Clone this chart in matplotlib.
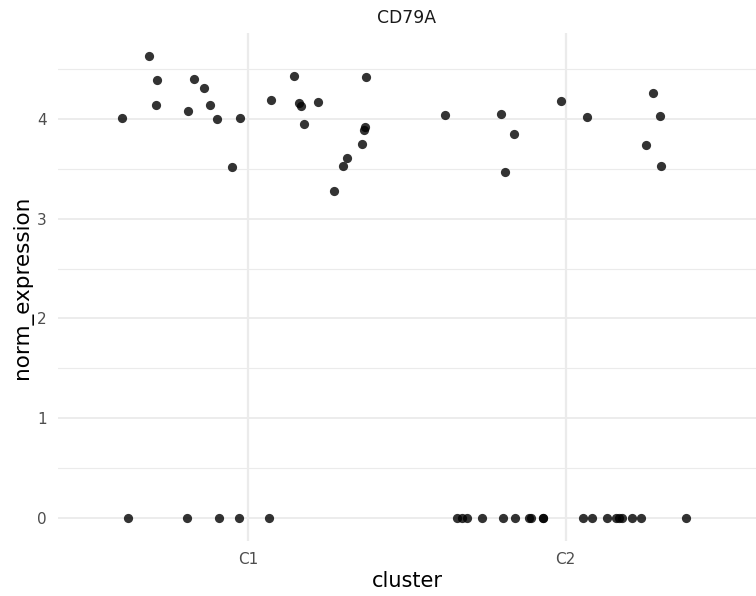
import numpy as np
import matplotlib
matplotlib.use("Agg")
import matplotlib.pyplot as plt

# CD79A expression per cell, jittered around its cluster
clusters = ["C1", "C2"]

# cluster C1: jitter offset (from cluster centre) and expression
c1_jitter = [-0.314, -0.289, -0.172, -0.141, -0.290, -0.191, -0.120, -0.397,
             -0.098, -0.026, -0.050, 0.070, 0.145, 0.160, 0.166, 0.221,
             0.176, 0.370, 0.367, 0.363, 0.358, 0.312, 0.298, 0.271,
             -0.380, -0.193, -0.094, -0.031, 0.066]
c1_expr = [4.63, 4.39, 4.40, 4.31, 4.14, 4.08, 4.14, 4.01,
           4.00, 4.01, 3.52, 4.19, 4.43, 4.16, 4.13, 4.17,
           3.95, 4.42, 3.92, 3.89, 3.75, 3.61, 3.53, 3.28,
           0, 0, 0, 0, 0]

# cluster C2
c2_jitter = [-0.381, -0.205, -0.164, -0.190, -0.014, 0.066, 0.274, 0.297,
             0.252, 0.301,
             -0.342, -0.328, -0.312, -0.265, -0.196, -0.161, -0.116, -0.110,
             -0.072, -0.070, 0.056, 0.082, 0.129, 0.158, 0.169, 0.179,
             0.209, 0.236, 0.380]
c2_expr = [4.04, 4.05, 3.85, 3.47, 4.18, 4.02, 4.26, 4.03,
           3.74, 3.53,
           0, 0, 0, 0, 0, 0, 0, 0,
           0, 0, 0, 0, 0, 0, 0, 0,
           0, 0, 0]

fig = plt.figure(figsize=(7.56, 5.96), dpi=100)
ax = fig.add_axes([0.0767, 0.0923, 0.9233, 0.8523])

grid_col = "#EBEBEB"
for v in np.arange(0.5, 5, 1.0):
    ax.axhline(v, color=grid_col, lw=0.8, zorder=0)
for v in range(0, 5):
    ax.axhline(v, color=grid_col, lw=1.3, zorder=0)
for i in range(len(clusters)):
    ax.axvline(i + 1, color=grid_col, lw=1.6, zorder=0)

x1 = 1 + np.array(c1_jitter)
x2 = 2 + np.array(c2_jitter)
ax.scatter(x1, c1_expr, s=44, color="black", alpha=0.8, linewidths=0, zorder=3)
ax.scatter(x2, c2_expr, s=44, color="black", alpha=0.8, linewidths=0, zorder=3)

ax.set_xlim(0.4, 2.6)
ax.set_ylim(-0.23, 4.86)
ax.set_xticks([1, 2])
ax.set_xticklabels(clusters)
ax.set_yticks([0, 1, 2, 3, 4])
ax.tick_params(length=0, labelsize=11, labelcolor="#4D4D4D", pad=8)
for s in ax.spines.values():
    s.set_visible(False)

ax.set_xlabel("cluster", fontsize=15, labelpad=3)
ax.set_ylabel("norm_expression", fontsize=15.5, labelpad=3)
ax.set_title("CD79A", fontsize=12.4, color="#1A1A1A", pad=7)

fig.savefig("out.png", dpi=100)
